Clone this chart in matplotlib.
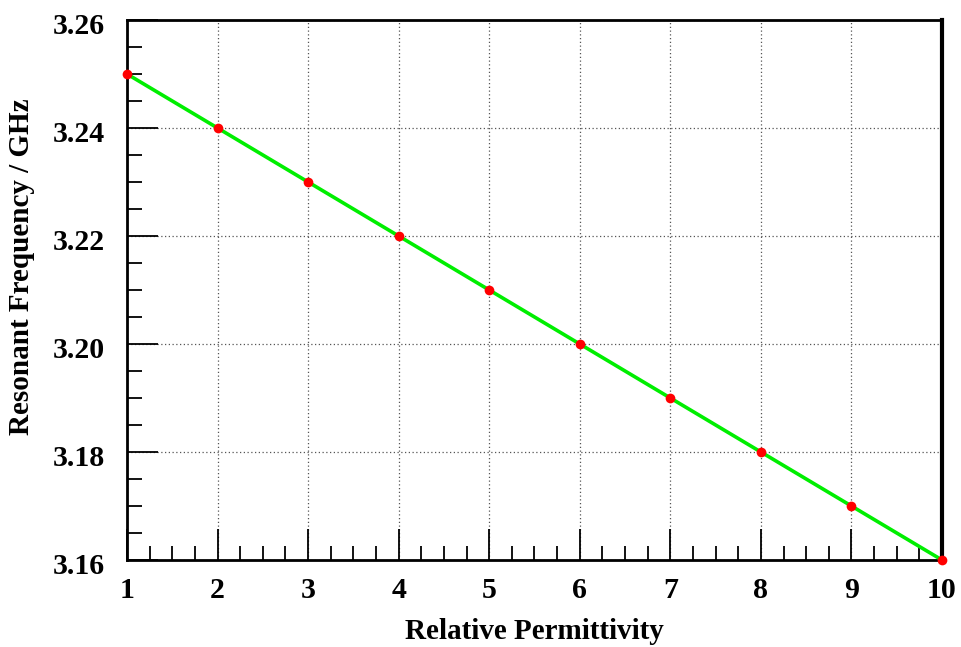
import matplotlib
matplotlib.use("Agg")
import matplotlib.pyplot as plt
from matplotlib.ticker import MultipleLocator
from matplotlib.transforms import ScaledTranslation

permittivity = [1, 2, 3, 4, 5, 6, 7, 8, 9, 10]
frequency_ghz = [3.25, 3.24, 3.23, 3.22, 3.21, 3.20, 3.19, 3.18, 3.17, 3.16]
x_ticks = [1, 2, 3, 4, 5, 6, 7, 8, 9, 10]
y_ticks = [3.16, 3.18, 3.20, 3.22, 3.24, 3.26]
y_tick_labels = ["3.16", "3.18", "3.20", "3.22", "3.24", "3.26"]

plt.rcParams["font.family"] = ["Liberation Serif", "DejaVu Serif"]
plt.rcParams["font.weight"] = "bold"

fig = plt.figure(figsize=(9.62, 6.47), dpi=100)
ax = fig.add_axes([127 / 962, 1 - 560 / 647, (942 - 127) / 962, (560 - 20) / 647])

ax.plot(permittivity, frequency_ghz, color="#00ee00", lw=2.6, zorder=3)
ax.plot(permittivity, frequency_ghz, "o", color="#ff0000", ms=7, mec="none",
        zorder=4, clip_on=False)

ax.set_xlim(1, 10)
ax.set_ylim(3.16, 3.26)
ax.set_xticks(x_ticks)
ax.set_yticks(y_ticks)
ax.set_yticklabels(y_tick_labels)
ax.xaxis.set_minor_locator(MultipleLocator(0.25))
ax.yaxis.set_minor_locator(MultipleLocator(0.005))

ax.grid(True, which="major", ls=(0, (1, 2)), color="#555555", lw=0.9)
ax.tick_params(axis="both", which="both", direction="in", top=False, right=False,
               labelsize=21.5, width=1.3, color="black")
ax.tick_params(axis="x", which="major", length=22, pad=12.5)
ax.tick_params(axis="x", which="minor", length=10)
ax.tick_params(axis="y", which="major", length=22, pad=16)
ax.tick_params(axis="y", which="minor", length=11)

# nudge the value labels on the y axis slightly below their tick lines
shift = ScaledTranslation(0, -4 / 100, fig.dpi_scale_trans)
for lbl in ax.get_yticklabels():
    lbl.set_transform(lbl.get_transform() + shift)

for side in ["left", "bottom", "top"]:
    ax.spines[side].set_linewidth(2)
ax.spines["right"].set_linewidth(3)

ax.set_xlabel("Relative Permittivity", fontsize=21, fontweight="bold", labelpad=10)
ax.set_ylabel("Resonant Frequency / GHz", fontsize=21, fontweight="bold")
ax.yaxis.set_label_coords(-0.113, 0.543)

fig.savefig("out.png", dpi=100)
